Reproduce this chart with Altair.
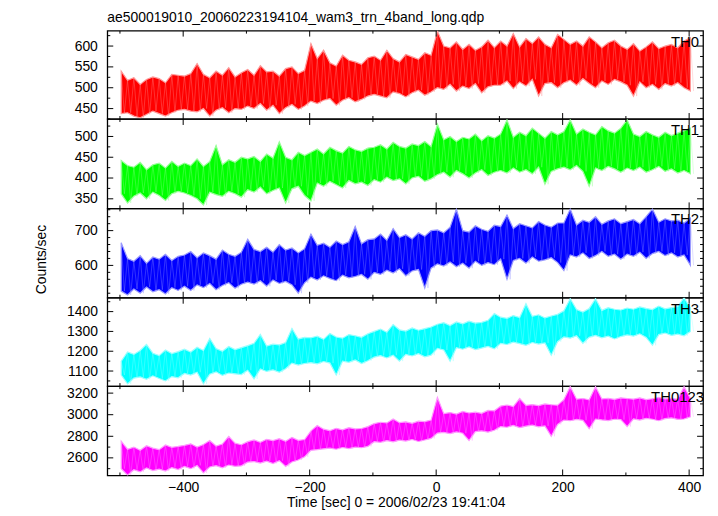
import altair as alt
import pandas as pd

FONT = "Liberation Sans"
TITLE = "ae500019010_20060223194104_wam3_trn_4band_long.qdp"
X_TITLE = "Time [sec] 0 = 2006/02/23 19:41:04"
Y_TITLE = "Counts/sec"
NAMES = ["TH0", "TH1", "TH2", "TH3", "TH0123"]
COLORS = ["#ff0000", "#00ff00", "#0000ff", "#00ffff", "#ff00ff"]
LIGHT = ["#ff9a9a", "#9aff9a", "#9a9aff", "#9affff", "#ff9aff"]

T_START = -498
T_BIN = 10
X_DOMAIN = [-520, 422]
X_MAJOR = [-400, -200, 0, 200, 400]
X_MINOR = [-500, -300, -100, 100, 300]

Y_DOMAINS = [[425, 637], [327, 542], [507, 764], [1024, 1470], [2437, 3265]]
Y_MAJOR = [[450, 500, 550, 600], [350, 400, 450, 500], [600, 700],
           [1100, 1200, 1300, 1400], [2600, 2800, 3000, 3200]]
Y_MINOR = [[425, 475, 525, 575, 625], [375, 425, 475, 525],
           [520, 540, 560, 580, 620, 640, 660, 680, 720, 740, 760],
           [1050, 1150, 1250, 1350, 1450], [2500, 2700, 2900, 3100]]
HEIGHTS = [89, 90, 90, 89, 90]
LABEL_RIGHT = [596, 596, 596, 596, 601]

# per 10 s bin: upper and lower extent of the light curve (counts/sec)
TH0_HI = [540, 518, 524, 508, 520, 526, 522, 512, 532, 530,
          528, 534, 558, 532, 524, 540, 530, 548, 526, 536,
          544, 530, 553, 538, 540, 528, 546, 550, 534, 542,
          606, 570, 590, 560, 552, 578, 566, 562, 556, 572,
          576, 566, 590, 570, 562, 580, 574, 568, 584, 578,
          636, 600, 596, 610, 592, 604, 590, 598, 614, 596,
          612, 600, 630, 598, 618, 606, 622, 604, 596, 628,
          616, 604, 612, 600, 622, 610, 596, 608, 614, 600,
          592, 606, 588, 598, 610, 594, 600, 604, 596, 612, 620]
TH0_LO = [438, 440, 432, 428, 436, 444, 438, 432, 440, 446,
          448, 444, 442, 450, 432, 446, 452, 440, 450, 448,
          456, 450, 462, 446, 458, 438, 452, 460, 448, 456,
          468, 462, 470, 474, 458, 470, 476, 466, 472, 480,
          484, 480, 476, 490, 486, 478, 488, 494, 482, 490,
          500, 496, 508, 492, 504, 498, 510, 488, 502, 506,
          506, 516, 498, 514, 504, 520, 480, 510, 512, 500,
          512, 518, 506, 522, 510, 500, 516, 508, 520, 514,
          506, 480, 514, 500, 508, 496, 510, 504, 512, 500, 492]

TH1_HI = [442, 430, 426, 438, 420, 432, 436, 424, 440, 428,
          436, 430, 446, 428, 440, 478, 432, 444, 438, 450,
          446, 452, 440, 458, 448, 487, 450, 444, 462, 454,
          462, 470, 458, 474, 466, 460, 476, 468, 464, 472,
          474, 480, 470, 486, 476, 472, 482, 478, 488, 476,
          530, 492, 500, 488, 498, 494, 506, 490, 502, 496,
          506, 540, 498, 510, 502, 520, 508, 496, 512, 504,
          512, 540, 506, 518, 510, 504, 524, 514, 508, 520,
          540, 506, 500, 512, 504, 498, 510, 502, 508, 514, 520]
TH1_LO = [362, 340, 356, 364, 350, 366, 358, 346, 362, 368,
          364, 358, 350, 335, 366, 360, 356, 368, 362, 354,
          372, 366, 378, 362, 370, 376, 340, 374, 380, 358,
          345, 388, 380, 392, 384, 376, 394, 386, 390, 382,
          396, 390, 402, 394, 398, 386, 400, 404, 392, 398,
          408, 414, 402, 418, 410, 400, 412, 420, 406, 414,
          418, 412, 424, 414, 420, 410, 426, 385, 416, 422,
          426, 420, 430, 416, 380, 424, 418, 428, 422, 414,
          424, 418, 426, 414, 420, 428, 416, 422, 412, 418, 410]

TH2_HI = [665, 620, 612, 628, 606, 624, 618, 632, 614, 626,
          630, 640, 622, 636, 628, 618, 644, 632, 626, 638,
          675, 646, 640, 652, 638, 660, 644, 650, 636, 648,
          690, 658, 664, 652, 670, 660, 668, 712, 662, 674,
          676, 690, 672, 706, 680, 688, 676, 694, 684, 700,
          702, 694, 710, 762, 700, 696, 714, 704, 698, 716,
          712, 745, 706, 720, 714, 708, 726, 716, 710, 722,
          722, 762, 716, 730, 724, 740, 718, 728, 734, 720,
          726, 732, 720, 740, 762, 724, 734, 728, 730, 722, 736]
TH2_LO = [526, 515, 532, 520, 538, 524, 530, 518, 536, 528,
          540, 528, 544, 536, 548, 530, 542, 550, 534, 546,
          552, 546, 556, 540, 558, 548, 554, 544, 520, 550,
          566, 558, 570, 562, 556, 572, 564, 568, 574, 560,
          580, 574, 586, 578, 590, 570, 584, 588, 535, 592,
          604, 598, 610, 596, 606, 592, 612, 600, 608, 602,
          618, 560, 614, 620, 606, 624, 612, 616, 622, 608,
          585, 630, 624, 636, 620, 628, 640, 626, 632, 618,
          632, 626, 638, 620, 634, 640, 628, 636, 624, 630, 600]

TH3_HI = [1150, 1196, 1184, 1204, 1235, 1190, 1178, 1206, 1188, 1198,
          1210, 1196, 1220, 1204, 1265, 1214, 1200, 1224, 1208, 1218,
          1228, 1240, 1285, 1226, 1236, 1232, 1244, 1315, 1262, 1270,
          1268, 1276, 1260, 1290, 1272, 1266, 1284, 1278, 1270, 1288,
          1300, 1312, 1296, 1335, 1308, 1302, 1318, 1306, 1314, 1322,
          1336, 1344, 1330, 1348, 1338, 1352, 1342, 1346, 1356, 1390,
          1372, 1366, 1380, 1370, 1440, 1376, 1384, 1368, 1378, 1386,
          1404, 1465, 1410, 1398, 1416, 1465, 1406, 1420, 1412, 1408,
          1418, 1412, 1424, 1416, 1410, 1428, 1414, 1420, 1426, 1470, 1418]
TH3_LO = [1080, 1035, 1064, 1070, 1058, 1076, 1062, 1050, 1072, 1066,
          1088, 1080, 1094, 1035, 1084, 1096, 1078, 1090, 1086, 1082,
          1104, 1060, 1110, 1098, 1106, 1094, 1112, 1140, 1130, 1138,
          1142, 1136, 1148, 1140, 1080, 1150, 1144, 1156, 1138, 1152,
          1170, 1178, 1166, 1180, 1150, 1184, 1176, 1188, 1172, 1180,
          1214, 1206, 1150, 1218, 1210, 1222, 1208, 1216, 1224, 1212,
          1240, 1234, 1246, 1238, 1230, 1244, 1236, 1242, 1180, 1248,
          1272, 1266, 1278, 1240, 1270, 1280, 1268, 1276, 1262, 1274,
          1282, 1276, 1288, 1270, 1230, 1284, 1292, 1280, 1286, 1278, 1300]

TH0123_HI = [2754, 2680, 2700, 2670, 2712, 2690, 2676, 2720, 2698, 2706,
             2716, 2730, 2700, 2724, 2760, 2710, 2728, 2800, 2736, 2722,
             2750, 2766, 2744, 2772, 2760, 2778, 2754, 2790, 2762, 2770,
             2850, 2900, 2866, 2852, 2874, 2860, 2880, 2868, 2872, 2890,
             2918, 2930, 2924, 2960, 2926, 2934, 2920, 2940, 2936, 2950,
             3160, 3010, 3020, 3006, 3030, 3016, 3024, 3012, 3040, 3036,
             3080, 3090, 3076, 3150, 3086, 3094, 3084, 3100, 3092, 3088,
             3140, 3260, 3144, 3150, 3138, 3260, 3146, 3152, 3142, 3156,
             3150, 3144, 3156, 3140, 3148, 3160, 3146, 3152, 3142, 3260, 3150]
TH0123_LO = [2500, 2440, 2490, 2470, 2506, 2482, 2496, 2478, 2510, 2492,
             2520, 2500, 2530, 2460, 2516, 2528, 2508, 2534, 2522, 2526,
             2560, 2566, 2552, 2570, 2548, 2574, 2520, 2562, 2580, 2610,
             2670, 2676, 2684, 2690, 2680, 2696, 2686, 2700, 2694, 2706,
             2750, 2744, 2760, 2748, 2764, 2756, 2770, 2752, 2766, 2780,
             2830, 2836, 2824, 2840, 2828, 2760, 2844, 2850, 2838, 2856,
             2890, 2884, 2900, 2880, 2894, 2904, 2888, 2896, 2800, 2910,
             2950, 2944, 2956, 2948, 2870, 2960, 2952, 2946, 2958, 2954,
             2890, 2962, 2950, 2966, 2958, 2944, 2964, 2970, 2956, 2960, 2980]

HI = [TH0_HI, TH1_HI, TH2_HI, TH3_HI, TH0123_HI]
LO = [TH0_LO, TH1_LO, TH2_LO, TH3_LO, TH0123_LO]

W = 600
MAJ = 6
MIN = 3


def panel(k):
    H = HEIGHTS[k]
    hi, lo = HI[k], LO[k]
    times = [T_START + T_BIN * i for i in range(len(hi))]
    band = pd.DataFrame({"t": times, "lo": lo, "hi": hi})
    zt, zv = [], []
    for t, h, l in zip(times, hi, lo):
        zt += [t, t + T_BIN / 2]
        zv += [h, l]
    zig = pd.DataFrame({"t": zt, "v": zv})

    xs = alt.Scale(domain=X_DOMAIN, nice=False, zero=False)
    ys = alt.Scale(domain=Y_DOMAINS[k], nice=False, zero=False)

    if k == 4:
        xaxis = alt.Axis(values=X_MAJOR, title=X_TITLE, ticks=False, tickSize=0,
                         domain=False, grid=False, format="d",
                         labelFont=FONT, labelFontSize=14, labelColor="black",
                         labelPadding=5, labelFlush=False, labelOverlap=False,
                         titleFont=FONT, titleFontSize=14, titleFontWeight="normal",
                         titleColor="black", titleX=290.5, titleY=31,
                         titleAlign="center", titleBaseline="alphabetic")
    else:
        xaxis = None

    yargs = dict(values=Y_MAJOR[k], ticks=False, tickSize=0, domain=False,
                 grid=False, format="d", labelFont=FONT, labelFontSize=14,
                 labelColor="black", labelPadding=10, labelFlush=False,
                 labelOverlap=False)
    if k == 2:
        yargs.update(title=Y_TITLE, titleFont=FONT, titleFontSize=14,
                     titleFontWeight="normal", titleColor="black",
                     titleX=-66, titleY=51, titleAngle=270,
                     titleAlign="center", titleBaseline="middle")
    else:
        yargs.update(title=None)
    yaxis = alt.Axis(**yargs)

    X = lambda f: alt.X(f, scale=xs, axis=xaxis)
    Y = lambda f: alt.Y(f, scale=ys, axis=yaxis)

    area = alt.Chart(band).mark_area(color=COLORS[k], stroke=LIGHT[k], strokeWidth=1.2,
                                     opacity=1, clip=True).encode(
        x=X("t:Q"), y=Y("lo:Q"), y2="hi:Q")
    streak = alt.Chart(zig).mark_line(color=LIGHT[k], strokeWidth=0.6, opacity=0.55,
                                      clip=True).encode(
        x=X("t:Q"), y=Y("v:Q"))

    layers = [area, streak]
    for vals, ln in ((X_MAJOR, MAJ), (X_MINOR, MIN)):
        df = pd.DataFrame({"t": vals})
        layers.append(alt.Chart(df).mark_rule(color="black", strokeWidth=1, clip=True).encode(
            x=X("t:Q"), y=alt.value(0), y2=alt.value(ln)))
        layers.append(alt.Chart(df).mark_rule(color="black", strokeWidth=1, clip=True).encode(
            x=X("t:Q"), y=alt.value(H), y2=alt.value(H - ln)))
    for vals, ln in ((Y_MAJOR[k], MAJ), (Y_MINOR[k], MIN)):
        df = pd.DataFrame({"v": vals})
        layers.append(alt.Chart(df).mark_rule(color="black", strokeWidth=1, clip=True).encode(
            y=Y("v:Q"), x=alt.value(0), x2=alt.value(ln)))
        layers.append(alt.Chart(df).mark_rule(color="black", strokeWidth=1, clip=True).encode(
            y=Y("v:Q"), x=alt.value(W), x2=alt.value(W - ln)))

    lab = alt.Chart(pd.DataFrame({"name": [NAMES[k]]})).mark_text(
        align="right", baseline="alphabetic", font=FONT, fontSize=15, color="black").encode(
        text="name:N", x=alt.value(LABEL_RIGHT[k]), y=alt.value(16))
    layers.append(lab)

    if k == 0:
        ttl = alt.Chart(pd.DataFrame({"title": [TITLE]})).mark_text(
            align="left", baseline="alphabetic", font=FONT, fontSize=14, color="black").encode(
            text="title:N", x=alt.value(0), y=alt.value(-8.5))
        layers.append(ttl)

    return alt.layer(*layers).properties(width=W, height=H)


chart = alt.vconcat(*[panel(k) for k in range(5)], spacing=0, bounds="flush").properties(
    padding={"left": 26, "top": 0, "right": 5, "bottom": 0},
    background="white",
).configure_view(stroke="black", strokeWidth=1.3)

chart.save("out.html", embed_options={"renderer": "svg", "actions": False})
